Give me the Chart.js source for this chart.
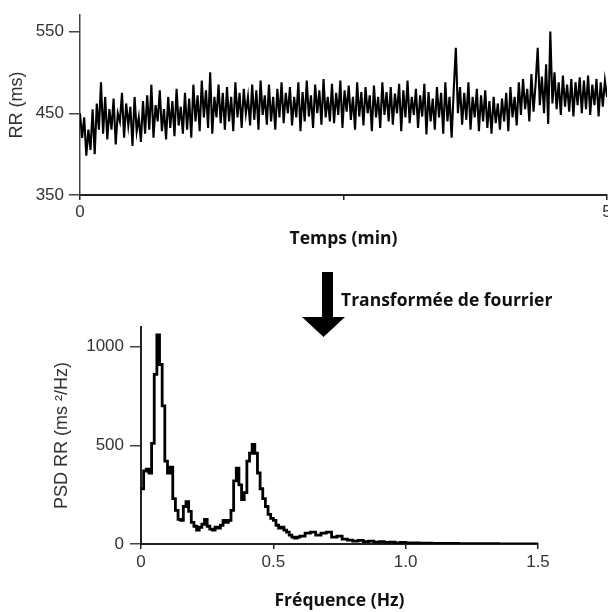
<!DOCTYPE html>
<html><head><meta charset="utf-8">
<script src="https://cdn.jsdelivr.net/npm/chart.js@4"></script>
<style>
html,body{margin:0;padding:0;background:#fff;overflow:hidden;width:608px;height:612px;position:relative;}
#c1{position:absolute;left:0;top:0;}
#c2{position:absolute;left:0;top:300px;}
#arrow{position:absolute;left:0;top:0;}
#ft{position:absolute;left:341px;top:289px;font:bold 17.5px "Open Sans", Lato, sans-serif;color:#111;white-space:nowrap;line-height:20px;}
</style>
</head><body>
<canvas id="c1" width="625" height="262"></canvas>
<svg id="arrow" width="608" height="612"><polygon points="322,272 333,272 333,317 345,317 323.5,337 302,317 322,317" fill="#000"/></svg>
<div id="ft">Transformée de fourrier</div>
<canvas id="c2" width="608" height="312"></canvas>
<script>
// ---- Top chart: RR interval series ----
const rrTitleX = 'Temps (min)';
const rrTitleY = 'RR (ms)';
const rrDurationMin = 5;
const rrXTicks = [0, 2.5, 5];
const rrXLabels = ['0', '', '5'];
const rrYTicks = [350, 450, 550];
const rrYLabels = ['350', '450', '550'];
const rrValues = [
450,420,445,398,430,405,455,400,462,430,
488,425,470,418,455,430,468,412,450,440,
475,420,462,435,458,410,470,428,445,415,
465,425,472,430,485,420,460,440,478,428,
455,418,470,432,465,422,480,435,458,425,
475,430,468,420,485,440,472,428,490,445,
478,432,500,425,470,445,485,438,475,430,
482,440,470,428,488,445,475,432,480,450,
470,435,485,442,478,430,490,448,472,436,
485,440,470,430,480,445,488,438,475,450,
482,435,470,445,488,428,476,440,490,446,
472,432,485,450,478,436,492,445,470,440,
486,438,475,448,490,432,478,452,484,442,
470,430,488,446,476,435,482,450,472,428,
484,445,470,432,488,448,476,440,482,436,
474,450,486,428,478,445,490,438,470,448,
480,432,472,446,486,424,476,440,468,430,
482,445,475,425,488,440,470,420,478,530,
450,482,436,475,442,488,430,470,445,480,
428,472,440,478,432,465,425,470,438,462,
430,468,440,475,428,482,445,470,435,488,
448,492,455,480,440,498,452,486,530,460,
495,450,510,437,550,462,500,455,488,448,
496,458,485,452,492,446,488,460,494,450,
490,455,496,448,485,460,492,446,488,458,
490,470
];

// ---- Bottom chart: PSD ----
const psdTitleX = 'Fréquence (Hz)';
const psdTitleY = 'PSD RR (ms ²/Hz)';
const psdXTicks = [0, 0.5, 1.0, 1.5];
const psdXLabels = ['0', '0.5', '1.0', '1.5'];
const psdYTicks = [0, 500, 1000];
const psdYLabels = ['0', '500', '1000'];
const psdFreq = [
0.00,0.01,0.02,0.03,0.04,0.05,0.06,0.07,0.08,0.09,
0.10,0.11,0.12,0.13,0.14,0.15,0.16,0.17,0.18,0.19,
0.20,0.21,0.22,0.23,0.24,0.25,0.26,0.27,0.28,0.29,
0.30,0.31,0.32,0.33,0.34,0.35,0.36,0.37,0.38,0.39,
0.40,0.41,0.42,0.43,0.44,0.45,0.46,0.47,0.48,0.49,
0.50,0.51,0.52,0.53,0.54,0.55,0.56,0.57,0.58,0.59,
0.60,0.62,0.64,0.66,0.68,0.70,0.72,0.74,0.76,0.78,
0.80,0.82,0.84,0.86,0.88,0.90,0.92,0.94,0.96,0.98,
1.00,1.05,1.10,1.15,1.20,1.25,1.30,1.35,1.40,1.45,1.50
];
const psdValues = [
280,370,380,360,510,860,1060,910,700,420,
360,390,230,170,125,120,190,215,165,110,
90,70,85,100,125,90,75,70,85,80,
95,120,110,120,170,320,385,300,225,260,
420,460,505,460,360,280,230,190,150,130,
120,95,80,85,70,60,45,35,30,35,
40,55,60,45,55,60,35,40,25,20,
15,18,12,15,10,12,8,10,6,8,
5,4,3,3,2,2,2,1,1,1,1
];

const tickFont = {family: '"Liberation Sans", Arial, sans-serif', size: 17};
const titleFontBold = {family: '"Open Sans", Lato, sans-serif', size: 17.5, weight: 'bold'};
const titleFontY = {family: '"Liberation Sans", Arial, sans-serif', size: 18};

function fixTicks(list) { return s => { s.ticks = list.map(v => ({value: v})); }; }
function labelFor(ticks, labels) { return v => { const i = ticks.indexOf(v); return i >= 0 ? labels[i] : ''; }; }

const rrPoints = rrValues.map((v, i) => ({x: i * rrDurationMin / (rrValues.length - 1), y: v}));

new Chart(document.getElementById('c1'), {
  type: 'line',
  data: {datasets: [{data: rrPoints, borderColor: '#000', borderWidth: 2.1, pointRadius: 0, tension: 0, fill: false}]},
  options: {
    responsive: false, animation: false, devicePixelRatio: 1,
    layout: {padding: {left: 0, top: 12, right: 18, bottom: 0}},
    plugins: {legend: {display: false}, tooltip: {enabled: false}},
    scales: {
      x: {type: 'linear', min: 0, max: rrDurationMin,
        afterBuildTicks: fixTicks(rrXTicks),
        afterFit: s => { s.height = 67; },
        grid: {drawOnChartArea: false, drawTicks: true, tickLength: 5, color: '#222', lineWidth: 1.5},
        border: {display: true, color: '#222', width: 2},
        ticks: {callback: labelFor(rrXTicks, rrXLabels), font: tickFont, color: '#333', padding: 2, maxRotation: 0, autoSkip: false},
        title: {display: true, text: rrTitleX, font: titleFontBold, color: '#111', padding: {top: 0, bottom: 12}}
      },
      y: {type: 'linear', min: 350, max: 570,
        afterBuildTicks: fixTicks(rrYTicks),
        afterFit: s => { s.width = 80; },
        grid: {drawOnChartArea: false, drawTicks: true, tickLength: 11, color: '#444', lineWidth: 1.5},
        border: {display: true, color: '#444', width: 1.5},
        ticks: {callback: labelFor(rrYTicks, rrYLabels), font: tickFont, color: '#333', padding: 5, autoSkip: false},
        title: {display: true, text: rrTitleY, font: titleFontY, color: '#333', padding: {top: 6, bottom: 0}}
      }
    }
  }
});

const psdPoints = psdValues.map((v, i) => ({x: psdFreq[i], y: v}));

new Chart(document.getElementById('c2'), {
  type: 'line',
  data: {datasets: [{data: psdPoints, borderColor: '#000', borderWidth: 2.8, pointRadius: 0, stepped: true, fill: false}]},
  options: {
    responsive: false, animation: false, devicePixelRatio: 1,
    layout: {padding: {left: 0, top: 27, right: 70, bottom: 0}},
    plugins: {legend: {display: false}, tooltip: {enabled: false}},
    scales: {
      x: {type: 'linear', min: 0, max: 1.5,
        afterBuildTicks: fixTicks(psdXTicks),
        afterFit: s => { s.height = 68; },
        grid: {drawOnChartArea: false, drawTicks: true, tickLength: 5, color: '#222', lineWidth: 1.5},
        border: {display: true, color: '#222', width: 2},
        ticks: {callback: labelFor(psdXTicks, psdXLabels), font: tickFont, color: '#333', padding: 3, maxRotation: 0, autoSkip: false},
        title: {display: true, text: psdTitleX, font: titleFontBold, color: '#111', padding: {top: 0, bottom: 0}}
      },
      y: {type: 'linear', min: 0, max: 1100,
        afterBuildTicks: fixTicks(psdYTicks),
        afterFit: s => { s.width = 141; },
        grid: {drawOnChartArea: false, drawTicks: true, tickLength: 11, color: '#444', lineWidth: 1.5},
        border: {display: true, color: '#222', width: 2},
        ticks: {callback: labelFor(psdYTicks, psdYLabels), font: tickFont, color: '#333', padding: 6, autoSkip: false},
        title: {display: true, text: psdTitleY, font: titleFontY, color: '#333', padding: {top: 51, bottom: 0}}
      }
    }
  }
});
</script>
</body></html>
